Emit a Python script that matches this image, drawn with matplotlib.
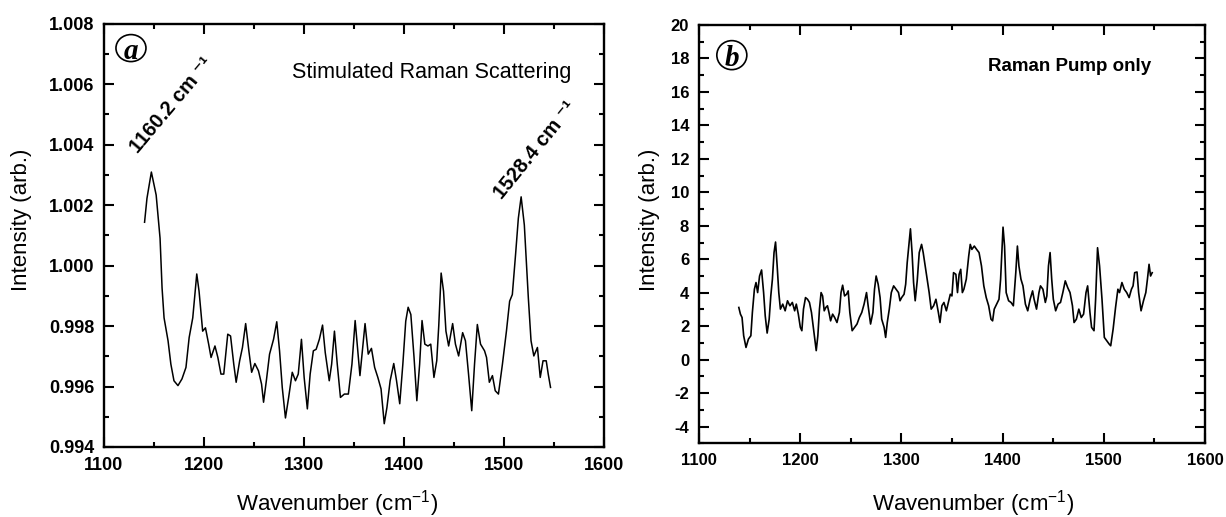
import matplotlib
matplotlib.use("Agg")
import matplotlib.pyplot as plt
from matplotlib.ticker import MultipleLocator
from matplotlib.patches import Ellipse

plt.rcParams["font.family"] = ["Liberation Sans", "DejaVu Sans"]
plt.rcParams["mathtext.fontset"] = "custom"
plt.rcParams["mathtext.rm"] = "Liberation Sans"
plt.rcParams["mathtext.it"] = "Liberation Sans"
plt.rcParams["axes.unicode_minus"] = False

# panel a: stimulated Raman scattering
srs_x = [1140.6, 1143, 1147.4, 1152.2, 1156.1, 1158.1, 1160.1, 1164.1, 1166.9, 1170,
         1174, 1178, 1182, 1185.2, 1188.8, 1192.8, 1195.1, 1198.7, 1201.5, 1204.7,
         1207.1, 1211, 1213.9, 1217, 1219.8, 1223.8, 1226.6, 1229.8, 1232.2, 1235.7,
         1238.5, 1241.7, 1244.9, 1247.7, 1250.9, 1254.5, 1257.6, 1259.6, 1262.4, 1265.6,
         1269.6, 1272.8, 1275.6, 1278.3, 1281.5, 1284.7, 1288.3, 1291.5, 1294.3, 1297.5,
         1300.2, 1303.4, 1306.2, 1309.4, 1312.2, 1315.4, 1318.6, 1321.3, 1325.3, 1327.7,
         1330.5, 1333.3, 1336.5, 1340.4, 1344.4, 1348, 1351.2, 1353.6, 1356, 1358.8,
         1361.1, 1364.3, 1367.5, 1370.7, 1373.9, 1377.1, 1380.3, 1383, 1386.2, 1389.8,
         1392.6, 1395.8, 1398.9, 1401.8, 1404.2, 1406.9, 1410.1, 1412.9, 1415.7, 1418.1,
         1420.9, 1424, 1426.8, 1430, 1432.8, 1434.8, 1437.2, 1439.6, 1442, 1444.7,
         1448.7, 1451.5, 1454.7, 1458.7, 1461.5, 1464.6, 1467.8, 1470.6, 1473.4, 1476.6,
         1480.6, 1482.6, 1485.4, 1488.5, 1491.3, 1494.5, 1498.5, 1502.5, 1505.7, 1508.4,
         1511.6, 1514.4, 1517.2, 1520.4, 1524.4, 1527.1, 1529.9, 1533.5, 1536.3, 1539.1,
         1542.3, 1544.3, 1546.6]
srs_y = [1.00143, 1.00222, 1.00309, 1.00233, 1.0009, 0.99926, 0.99827, 0.99751, 0.99674, 0.99619,
         0.99603, 0.99625, 0.99663, 0.99762, 0.99827, 0.99972, 0.99915, 0.99783, 0.99794, 0.9974,
         0.99696, 0.99734, 0.99696, 0.99641, 0.99641, 0.99773, 0.99767, 0.99674, 0.99614, 0.99685,
         0.99729, 0.99808, 0.99718, 0.99647, 0.99676, 0.99652, 0.99608, 0.99548, 0.99619, 0.99707,
         0.99756, 0.99814, 0.99718, 0.99597, 0.99496, 0.99564, 0.99647, 0.99619, 0.99641, 0.99756,
         0.9963, 0.99526, 0.99641, 0.99718, 0.99723, 0.99756, 0.99803, 0.99712, 0.99619, 0.99674,
         0.99783, 0.99674, 0.99564, 0.99575, 0.99575, 0.99674, 0.99818, 0.99729, 0.99636, 0.99729,
         0.99808, 0.99707, 0.99726, 0.99663, 0.9963, 0.99592, 0.99477, 0.99531, 0.99619, 0.99676,
         0.99619, 0.99543, 0.99674, 0.99816, 0.99862, 0.99838, 0.99696, 0.99553, 0.99674, 0.99818,
         0.9974, 0.99734, 0.9974, 0.9963, 0.99685, 0.998, 0.99975, 0.99915, 0.99783, 0.99734,
         0.99808, 0.9974, 0.99701, 0.99778, 0.99751, 0.99641, 0.9952, 0.99674, 0.99805, 0.9974,
         0.99718, 0.99696, 0.99614, 0.99636, 0.99586, 0.99575, 0.99674, 0.99783, 0.99882, 0.99904,
         1.00035, 1.00156, 1.00227, 1.00134, 0.99893, 0.99751, 0.99701, 0.99729, 0.9963, 0.99685,
         0.99685, 0.99641, 0.99597]

# panel b: Raman pump only
pump_x = [1139.4, 1141, 1142.6, 1144.2, 1146.5, 1148.9, 1151.3, 1152.8, 1154.8, 1156.4,
          1158, 1159.9, 1161.9, 1163.9, 1165.5, 1167.4, 1169.4, 1171, 1172.6, 1174.2,
          1175.7, 1177.3, 1178.9, 1180.5, 1182.8, 1185.2, 1187.5, 1189.9, 1192.3, 1194.6,
          1196.2, 1198.2, 1200.2, 1201.7, 1203.3, 1205.3, 1207.3, 1209.2, 1211.2, 1213.6,
          1215.9, 1217.5, 1219.1, 1220.7, 1222.2, 1223.8, 1225.4, 1227, 1228.5, 1230.1,
          1232.1, 1234.1, 1236.4, 1238.8, 1240.4, 1242, 1243.9, 1245.9, 1247.5, 1249.1,
          1251.4, 1253.8, 1256.2, 1258.5, 1260.9, 1263.2, 1265.6, 1267.2, 1269.6, 1271.9,
          1273.5, 1275.1, 1277.1, 1279, 1280.6, 1283, 1284.5, 1286.1, 1288.1, 1290.1,
          1292.4, 1294.8, 1297.2, 1298.7, 1300.3, 1302.7, 1304.3, 1305.8, 1307.4, 1309,
          1310.6, 1312.1, 1313.7, 1315.7, 1317.7, 1320, 1321.6, 1323.6, 1325.6, 1327.5,
          1329.5, 1331.9, 1334.2, 1336.6, 1338.2, 1340.1, 1342.1, 1344.5, 1346.8, 1348.4,
          1350, 1351.6, 1353.9, 1355.5, 1357.1, 1358.7, 1360.3, 1361.8, 1364.2, 1366.6,
          1368.1, 1369.7, 1372.1, 1374.4, 1376.8, 1379.2, 1381.5, 1383.9, 1386.3, 1388.6,
          1390.2, 1391.8, 1394.2, 1396.5, 1398.1, 1400.5, 1402, 1403.6, 1406, 1408.4,
          1410.7, 1413.1, 1414.7, 1416.2, 1418.2, 1420.2, 1422.6, 1424.9, 1427.3, 1429.7,
          1431.2, 1433.6, 1436, 1437.5, 1439.9, 1442.3, 1443.8, 1445.4, 1447, 1448.6,
          1450.2, 1452.5, 1454.9, 1457.3, 1459.6, 1462, 1464.4, 1466.7, 1469.1, 1470.7,
          1473, 1475.4, 1477.8, 1480.1, 1482.5, 1484.1, 1486.4, 1488, 1490.4, 1492,
          1493.9, 1495.9, 1498.3, 1500.6, 1503, 1505.4, 1506.9, 1509.3, 1511.7, 1514,
          1515.6, 1518, 1520.3, 1522.7, 1525.1, 1527.4, 1529, 1530.6, 1532.9, 1534.5,
          1536.9, 1539.3, 1541.6, 1543.2, 1544.8, 1546.3, 1547.9]
pump_y = [3.12, 2.72, 2.52, 1.43, 0.73, 1.23, 1.43, 2.82, 4.21, 4.61,
          4.01, 5.0, 5.36, 4.01, 2.62, 1.59, 2.42, 3.81, 4.81, 6.4,
          7.03, 5.6, 4.01, 3.02, 3.32, 2.92, 3.52, 3.22, 3.42, 2.92,
          3.32, 2.72, 1.93, 1.73, 3.02, 3.71, 3.61, 3.42, 2.82, 1.63,
          0.54, 1.43, 3.02, 4.01, 3.81, 2.92, 3.12, 3.22, 2.82, 2.32,
          2.72, 2.52, 2.22, 2.82, 4.01, 4.45, 3.81, 3.91, 4.11, 2.82,
          1.73, 1.93, 2.13, 2.52, 2.82, 3.32, 4.01, 3.22, 2.13, 2.82,
          4.21, 5.0, 4.51, 3.71, 2.42, 1.93, 1.33, 2.22, 3.02, 4.01,
          4.41, 4.21, 4.01, 3.52, 3.71, 3.91, 4.51, 5.8, 6.79, 7.82,
          6.4, 4.61, 3.52, 4.71, 6.4, 6.89, 6.4, 5.6, 4.81, 4.01,
          3.02, 3.22, 3.61, 2.82, 2.22, 3.22, 3.42, 2.92, 3.52, 3.91,
          3.81, 5.2, 5.1, 4.01, 5.1, 5.4, 4.01, 4.21, 4.81, 6.2,
          6.89, 6.59, 6.79, 6.59, 6.4, 5.6, 4.41, 3.71, 3.22, 2.42,
          2.32, 3.02, 3.32, 3.61, 4.81, 7.92, 6.79, 4.01, 3.52, 3.42,
          3.22, 5.2, 6.79, 5.6, 4.81, 4.41, 3.32, 2.92, 3.61, 4.11,
          3.61, 3.02, 4.01, 4.41, 4.21, 3.42, 3.81, 5.6, 6.4, 4.81,
          3.61, 2.92, 3.32, 3.42, 4.01, 4.71, 4.31, 4.01, 3.22, 2.22,
          2.42, 3.02, 2.52, 2.72, 4.01, 4.41, 2.82, 1.93, 1.73, 3.61,
          6.69, 5.6, 3.61, 1.33, 1.13, 0.93, 0.83, 1.83, 3.12, 4.21,
          4.01, 4.61, 4.21, 4.01, 3.71, 4.21, 4.41, 5.2, 5.24, 4.01,
          2.92, 3.52, 4.01, 4.81, 5.7, 5.0, 5.2]

fig = plt.figure(figsize=(12.26, 5.17), dpi=100)
ax1 = fig.add_axes([0.0848, 0.1354, 0.4078, 0.8191])
ax2 = fig.add_axes([0.5701, 0.1425, 0.4127, 0.8091])


def style(ax, tick_size, xlab_pos, ylab_pos):
    for s in ax.spines.values():
        s.set_linewidth(1.7)
    ax.tick_params(which="both", direction="in", top=True, right=True, width=1.5)
    ax.tick_params(which="major", length=7, pad=7)
    ax.tick_params(which="minor", length=3.5)
    for lab in ax.get_xticklabels() + ax.get_yticklabels():
        lab.set_fontweight("bold")
        lab.set_fontsize(tick_size)
    ax.set_xlabel("Wavenumber (cm$^{-1}$)", fontsize=16)
    ax.set_ylabel("Intensity (arb.)", fontsize=16)
    ax.xaxis.set_label_coords(*xlab_pos)
    ax.yaxis.set_label_coords(*ylab_pos)


def panel_tag(ax, letter, x, y, w, h):
    ax.add_patch(Ellipse((x, y), w, h, transform=ax.transAxes, fill=False,
                         ec="black", lw=1.2, clip_on=False))
    ax.text(x, y, letter, transform=ax.transAxes, ha="center", va="center_baseline",
            fontsize=21, family="Liberation Serif", fontweight="bold", style="italic")


ax1.plot(srs_x, srs_y, color="black", lw=1.1)
ax1.set_xlim(1100, 1600)
ax1.set_ylim(0.994, 1.008)
ax1.xaxis.set_major_locator(MultipleLocator(100))
ax1.xaxis.set_minor_locator(MultipleLocator(50))
ax1.yaxis.set_major_locator(MultipleLocator(0.002))
ax1.yaxis.set_minor_locator(MultipleLocator(0.001))
ax1.yaxis.set_major_formatter(plt.FormatStrFormatter("%.3f"))
style(ax1, 13, (0.466, -0.097), (-0.144, 0.536))
panel_tag(ax1, "a", 0.054, 0.942, 30 / 500, 27 / 423.5)
ax1.text(0.934, 0.885, "Stimulated Raman Scattering", transform=ax1.transAxes,
         ha="right", va="center", fontsize=15.5)
ax1.text(1168, 1.00531, "1160.2 cm \u207b\u00b9", rotation=50, ha="center", va="center",
         fontsize=14.5, fontweight="bold", rotation_mode="anchor")
ax1.text(1531, 1.00382, "1528.4 cm \u207b\u00b9", rotation=51, ha="center", va="center",
         fontsize=14.5, fontweight="bold", rotation_mode="anchor")

ax2.plot(pump_x, pump_y, color="black", lw=1.2)
ax2.set_xlim(1100, 1600)
ax2.set_ylim(-5, 20)
ax2.xaxis.set_major_locator(MultipleLocator(100))
ax2.xaxis.set_minor_locator(MultipleLocator(50))
ax2.yaxis.set_minor_locator(MultipleLocator(1))
ax2.set_yticks(range(-4, 21, 2))
style(ax2, 12, (0.541, -0.107), (-0.077, 0.534))
panel_tag(ax2, "b", 0.065, 0.928, 30 / 506, 29 / 418.3)
ax2.text(0.893, 0.90, "Raman Pump only", transform=ax2.transAxes,
         ha="right", va="center", fontsize=13.5, fontweight="bold")

fig.savefig("out.png", dpi=100)
